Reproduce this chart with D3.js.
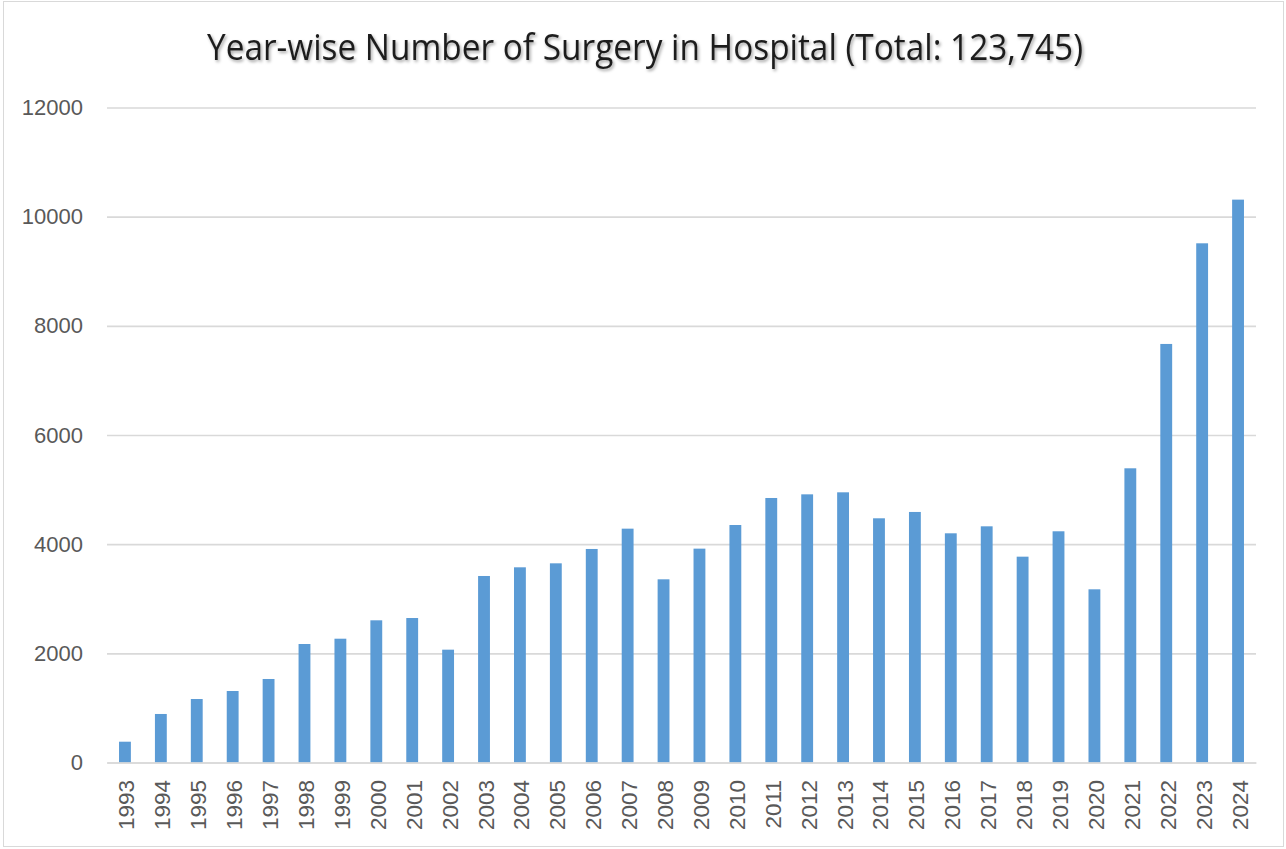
<!DOCTYPE html>
<html>
<head>
<meta charset="utf-8">
<script src="https://cdn.jsdelivr.net/npm/d3@7"></script>
<style>
  body { margin: 0; background: #fff; }
  svg { display: block; }
</style>
</head>
<body>
<div id="chart"></div>
<script>
// data
var years = ["1993","1994","1995","1996","1997","1998","1999","2000","2001","2002",
             "2003","2004","2005","2006","2007","2008","2009","2010","2011","2012",
             "2013","2014","2015","2016","2017","2018","2019","2020","2021","2022",
             "2023","2024"];
var surgeries = [381, 889, 1163, 1310, 1530, 2171, 2268, 2605, 2647, 2067,
                 3417, 3576, 3649, 3912, 4284, 3356, 3918, 4351, 4846, 4913,
                 4950, 4474, 4590, 4199, 4327, 3771, 4236, 3173, 5390, 7668,
                 9512, 10312];
var yTicks = [0, 2000, 4000, 6000, 8000, 10000, 12000];
var titleText = "Year-wise Number of Surgery in Hospital (Total: 123,745)";

var width = 1286,
    height = 849;

var margin = {top: 107.5, right: 30, bottom: 86.5, left: 107};
var plotW = 1256 - margin.left,
    plotH = height - margin.top - margin.bottom;

var svg = d3.select("#chart").append("svg")
    .attr("width", width)
    .attr("height", height);

var defs = svg.append("defs");
var shadow = defs.append("filter").attr("id", "tshadow")
    .attr("x", "-5%").attr("y", "-20%").attr("width", "110%").attr("height", "150%");
shadow.append("feDropShadow")
    .attr("dx", 1.5).attr("dy", 2)
    .attr("stdDeviation", 1.5)
    .attr("flood-color", "#000").attr("flood-opacity", 0.35);

// outer frame
svg.append("rect")
    .attr("x", 3.5).attr("y", 1.5)
    .attr("width", 1280).attr("height", 845)
    .attr("fill", "#fff")
    .attr("stroke", "#d9d9d9")
    .attr("stroke-width", 1);

svg.append("text")
    .attr("x", 645)
    .attr("y", 59.5)
    .attr("text-anchor", "middle")
    .attr("font-family", "'Open Sans', 'Noto Sans', sans-serif")
    .attr("font-size", 36)
    .attr("fill", "#1f1f1f")
    .attr("textLength", 876)
    .attr("lengthAdjust", "spacingAndGlyphs")
    .attr("filter", "url(#tshadow)")
    .text(titleText);

var g = svg.append("g")
    .attr("transform", "translate(" + margin.left + "," + margin.top + ")");

var x = d3.scaleBand()
    .domain(years)
    .range([0, plotW])
    .paddingInner(0.67)
    .paddingOuter(0.335);

var y = d3.scaleLinear()
    .domain([0, 12000])
    .range([plotH, 0]);

// gridlines
var yAxis = d3.axisLeft(y)
    .tickValues(yTicks)
    .tickSize(-plotW)
    .tickPadding(24)
    .tickFormat(d3.format("d"));

var yg = g.append("g").call(yAxis);
yg.select(".domain").remove();
yg.selectAll(".tick line")
    .attr("stroke", "#d9d9d9")
    .attr("stroke-width", 1.6);
yg.selectAll(".tick text")
    .attr("fill", "#595959")
    .attr("font-family", "'Liberation Sans', Arial, sans-serif")
    .attr("font-size", 22);

// bars
g.selectAll("rect.bar")
    .data(surgeries)
  .enter()
    .append("rect")
    .attr("class", "bar")
    .attr("x", function(d, i) { return x(years[i]); })
    .attr("y", function(d) { return y(d); })
    .attr("width", x.bandwidth())
    .attr("height", function(d) { return plotH - y(d); })
    .attr("fill", "#5b9bd5");

// x axis
var xAxis = d3.axisBottom(x).tickSize(0).tickPadding(0);
var xg = g.append("g")
    .attr("transform", "translate(0," + plotH + ")")
    .call(xAxis);
xg.select(".domain")
    .attr("stroke", "#d9d9d9")
    .attr("stroke-width", 1.6);
xg.selectAll(".tick text")
    .attr("fill", "#595959")
    .attr("font-family", "'Liberation Sans', Arial, sans-serif")
    .attr("font-size", 22.5)
    .attr("text-anchor", "end")
    .attr("dy", null)
    .attr("y", 0)
    .attr("transform", "translate(9.5,17.5) rotate(-90)");
</script>
</body>
</html>
